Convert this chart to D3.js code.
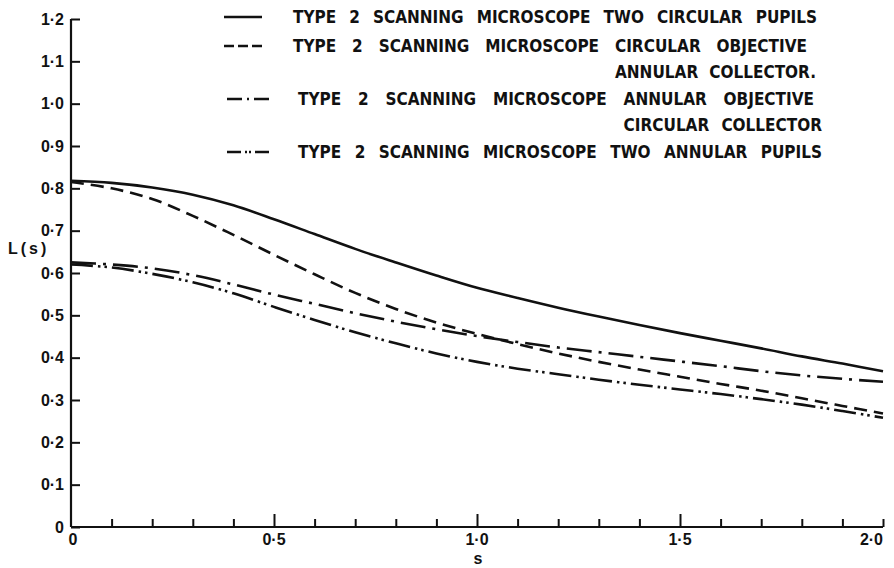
<!DOCTYPE html>
<html><head><meta charset="utf-8">
<script src="https://cdn.jsdelivr.net/npm/d3@7"></script>
<style>
html,body{margin:0;padding:0;background:#fff;}
svg{display:block;}
text{font-family:"Liberation Sans",Arial,sans-serif;fill:#111;}
text.leg{font-family:"DejaVu Sans Condensed","DejaVu Sans",sans-serif;font-stretch:condensed;}
</style></head>
<body>
<svg id="chart" width="894" height="568"></svg>
<script>
// ---- data ----
const sValues = [0,0.1,0.2,0.3,0.4,0.5,0.6,0.7,0.8,0.9,1.0,1.1,1.2,1.3,1.4,1.5,1.6,1.7,1.8,1.9,2.0];
const twoCircular = [0.818,0.813,0.802,0.785,0.760,0.727,0.692,0.657,0.625,0.594,0.565,0.541,0.518,0.497,0.477,0.458,0.440,0.422,0.403,0.386,0.368];
const circObjAnnColl = [0.815,0.800,0.775,0.735,0.690,0.643,0.597,0.553,0.515,0.483,0.456,0.432,0.410,0.390,0.372,0.355,0.338,0.322,0.304,0.286,0.268];
const annObjCircColl = [0.625,0.620,0.611,0.595,0.573,0.549,0.527,0.505,0.485,0.467,0.451,0.437,0.424,0.413,0.402,0.391,0.380,0.368,0.358,0.350,0.343];
const twoAnnular = [0.620,0.613,0.598,0.578,0.552,0.520,0.489,0.460,0.434,0.410,0.390,0.374,0.361,0.348,0.336,0.325,0.314,0.302,0.289,0.274,0.258];
const yTicks = [0,0.1,0.2,0.3,0.4,0.5,0.6,0.7,0.8,0.9,1.0,1.1,1.2];
const yTickLabels = ["0","0·1","0·2","0·3","0·4","0·5","0·6","0·7","0·8","0·9","1·0","1·1","1·2"];
const xMinorTicks = [0.1,0.2,0.3,0.4,0.6,0.7,0.8,0.9,1.1,1.2,1.3,1.4,1.6,1.7,1.8,1.9,2.0];
const xMajorTicks = [0,0.5,1.0,1.5,2.0];
const xTickLabels = ["0","0·5","1·0","1·5","2·0"];
const legendLines = [
  ["TYPE 2 SCANNING MICROSCOPE TWO CIRCULAR PUPILS"],
  ["TYPE 2 SCANNING MICROSCOPE CIRCULAR OBJECTIVE","ANNULAR COLLECTOR."],
  ["TYPE 2 SCANNING MICROSCOPE ANNULAR OBJECTIVE","CIRCULAR COLLECTOR"],
  ["TYPE 2 SCANNING MICROSCOPE TWO ANNULAR PUPILS"]
];

// ---- layout / styles ----
const svg = d3.select("#chart");
const x = d3.scaleLinear().domain([0,2]).range([71,883]);
const y = d3.scaleLinear().domain([0,1.2]).range([527,19]);
const series = [twoCircular, circObjAnnColl, annObjCircColl, twoAnnular];
const dashes = [null, "13,7", "25,7,3,7", "22,5,2.5,4,2.5,5"];
const legendDashes = [null, "10,4", "15,5,2,5,15", "14,4,2,2,2,4,14"];

// axes
const yAxis = d3.axisRight(y).tickValues(yTicks).tickSize(9).tickFormat("");
const gy = svg.append("g").attr("transform",`translate(${x(0)},0)`).call(yAxis);
gy.select(".domain").attr("stroke","#111").attr("stroke-width",2.2).attr("d",`M0,${y(1.2)}V${y(0)}`);
gy.selectAll(".tick line").attr("stroke","#111").attr("stroke-width",2);

svg.append("g").selectAll("text").data(yTicks).join("text")
  .attr("x",64).attr("y",d=>y(d)).attr("dy","0.36em")
  .attr("text-anchor","end").attr("font-size",16).attr("font-weight","bold")
  .text((d,i)=>yTickLabels[i]);

const xAxisMinor = d3.axisTop(x).tickValues(xMinorTicks).tickSize(8).tickFormat("");
const gx = svg.append("g").attr("transform",`translate(0,${y(0)})`).call(xAxisMinor);
gx.select(".domain").attr("stroke","#111").attr("stroke-width",2.2).attr("d",`M${x(0)},0H${x(2)}`);
gx.selectAll(".tick line").attr("stroke","#111").attr("stroke-width",2);
const xAxisMajor = d3.axisTop(x).tickValues([0.5,1.0,1.5]).tickSize(13).tickFormat("");
const gx2 = svg.append("g").attr("transform",`translate(0,${y(0)})`).call(xAxisMajor);
gx2.select(".domain").remove();
gx2.selectAll(".tick line").attr("stroke","#111").attr("stroke-width",2);

svg.append("g").selectAll("text").data(xMajorTicks).join("text")
  .attr("x",d=>x(d)+(d===0?2:0)).attr("y",545)
  .attr("text-anchor",(d,i)=>i===xMajorTicks.length-1?"end":"middle")
  .attr("font-size",16).attr("font-weight","bold")
  .text((d,i)=>xTickLabels[i]);

svg.append("text").attr("x",x(1)+1).attr("y",564).attr("text-anchor","middle")
  .attr("font-size",16).attr("font-weight","bold").text("s");
svg.append("text").attr("x",8).attr("y",254).attr("font-size",16).attr("font-weight","bold")
  .attr("letter-spacing","3px").text("L(s)");

// curves
const line = d3.line().x((d,i)=>x(sValues[i])).y(d=>y(d)).curve(d3.curveCatmullRom.alpha(0.5));
series.forEach((vals,k)=>{
  svg.append("path").datum(vals).attr("d",line)
    .attr("fill","none").attr("stroke","#111").attr("stroke-width",2.6)
    .attr("stroke-dasharray",dashes[k]);
});

// legend
const legendY = [[17],[46,72],[99,125],[152]];
const sampleX = [[224,262],[224,262],[227,269],[227,269]];
const textStart = [293,293,298,298];
const textEnd = [[817],[807,816],[814,822],[822]];
const alignWord = 4; // continuation lines start under this word of the first line
legendLines.forEach((rows,k)=>{
  svg.append("line").attr("x1",sampleX[k][0]).attr("x2",sampleX[k][1])
    .attr("y1",legendY[k][0]).attr("y2",legendY[k][0])
    .attr("stroke","#111").attr("stroke-width",2.6)
    .attr("stroke-dasharray",legendDashes[k]);
  let firstNode = null;
  rows.forEach((t,j)=>{
    let sx = textStart[k];
    if (j>0 && firstNode) {
      const words = rows[0].split(" ");
      const idx = words.slice(0,alignWord).join(" ").length + 1;
      sx = firstNode.getStartPositionOfChar(idx).x;
    }
    const el = svg.append("text").attr("class","leg")
      .attr("x", sx).attr("y", legendY[k][j]).attr("dy","0.36em")
      .attr("font-size",17).attr("font-weight","bold")
      .style("word-spacing","0px")
      .text(t);
    const node = el.node();
    const w = node.getComputedTextLength();
    const nSpaces = t.split(" ").length - 1;
    if (nSpaces>0) el.style("word-spacing", Math.max(0,(textEnd[k][j] - sx - w)/nSpaces) + "px");
    if (j===0) firstNode = node;
  });
});
</script>
</body></html>
